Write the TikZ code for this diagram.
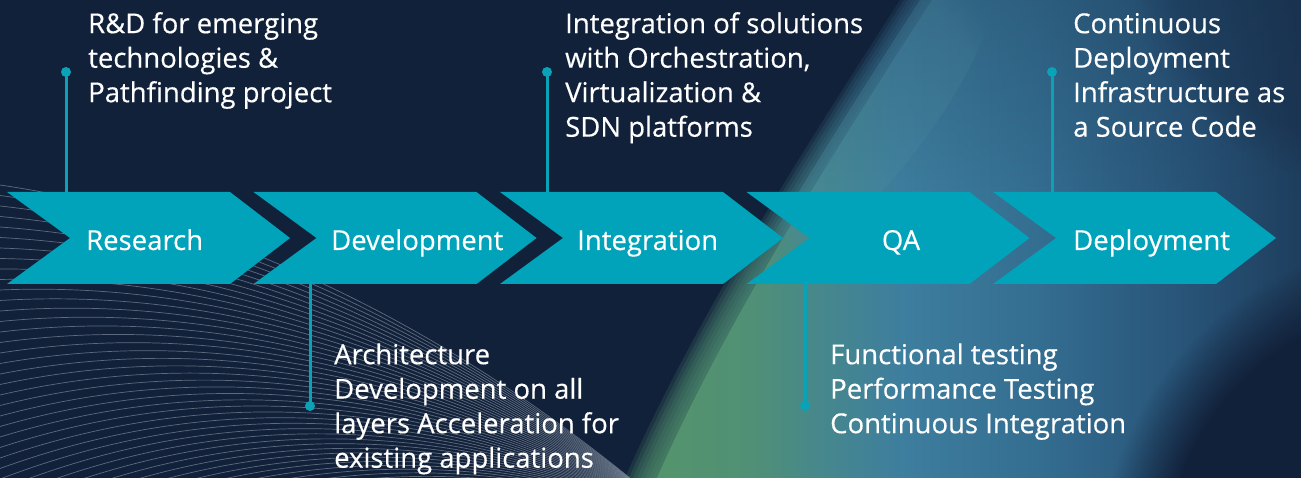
\documentclass[tikz,border=0pt]{standalone}
\usepackage{fontspec}
\setmainfont{Open Sans}[FakeBold=0.35]
\usetikzlibrary{fadings}
\definecolor{navy}{HTML}{12213A}
\definecolor{chev}{HTML}{00A3B9}
\definecolor{conn}{HTML}{0AA2B7}
\definecolor{fan}{HTML}{A9B4C2}
\definecolor{streak}{HTML}{4A8CA3}
\pgfdeclarehorizontalshading{glowshade}{100bp}{
  color(0bp)=(rgb,255:red,84;green,148;blue,108);
  color(25bp)=(rgb,255:red,84;green,148;blue,108);
  color(32bp)=(rgb,255:red,80;green,144;blue,118);
  color(37bp)=(rgb,255:red,70;green,136;blue,140);
  color(43bp)=(rgb,255:red,62;green,126;blue,158);
  color(53bp)=(rgb,255:red,52;green,110;blue,145);
  color(64bp)=(rgb,255:red,40;green,84;blue,120);
  color(75bp)=(rgb,255:red,28;green,56;blue,86);
  color(100bp)=(rgb,255:red,28;green,56;blue,86)}
\newcommand\tstrut{\rule{0pt}{24pt}}
\tikzset{
  chevron/.style={fill=chev},
  fanline/.style={draw=fan, line width=0.7pt, opacity=0.5},
  connector/.style={draw=conn, line width=3pt},
  dotnode/.style={circle, fill=conn, inner sep=0pt, minimum size=10pt},
  txt/.style={anchor=north west, inner sep=0pt, align=left, text=white,
    font=\fontsize{27.5}{34.5}\selectfont},
  lbl/.style={anchor=base west, inner sep=0pt, text=white,
    font=\fontsize{27.5}{34.5}\selectfont},
  glowregion/.style={shading=glowshade}
}
\def\glowpath{(625,478) .. controls (690,330) and (790,170) .. (900,0) -- (1301,0) -- (1301,478) -- cycle}
\begin{document}
\begin{tikzpicture}[x=1pt,y=-1pt]
\useasboundingbox (0,0) rectangle (1301,478);
\fill[navy] (0,0) rectangle (1301,478);
\begin{scope}
  \clip (0,0) rectangle (1301,478);
  % glow region with a soft left edge
  \foreach \d in {0,4,...,28}{
    \path[glowregion, opacity=0.18, xshift=\d pt] \glowpath;
  }
  \path[glowregion, xshift=32pt] \glowpath;
  \begin{scope}
    \clip[xshift=20pt] \glowpath;
    \fill[streak, opacity=0.35, path fading=circle with fuzzy edge 20 percent, rotate around={-38:(870,120)}]
      (870,120) ellipse [x radius=55, y radius=190];
  \end{scope}
  % darker top and dark corners
  \fill[navy, opacity=0.2, path fading=south] (600,0) rectangle (1301,200);
  \fill[navy, path fading=circle with fuzzy edge 20 percent] (1430,570) circle [radius=330];
  \fill[navy, opacity=0.25, path fading=circle with fuzzy edge 20 percent] (1350,-40) circle [radius=220];
  \fill[navy, opacity=0.5, path fading=circle with fuzzy edge 20 percent] (700,0) circle [radius=170];
  % fan of lines
  \foreach \i in {0,...,42}{
    \pgfmathsetmacro\yy{185+10.5*\i}
    \draw[fanline] (0,\yy) .. controls (250,{0.55*\yy+120}) and (480,{0.25*\yy+300}) .. (680,520);
  }
\end{scope}
% chevrons
\foreach \xo in {7,253.5,500,746.5,993}{
  \fill[chevron] (\xo,192) -- ({\xo+223},192) -- ({\xo+283},238) -- ({\xo+223},284)
    -- (\xo,284) -- ({\xo+63},238) -- cycle;
}
% chevron labels
\node[lbl] (research) at (86,250) {Research};
\node[lbl] (development) at (331,250) {Development};
\node[lbl] (integration) at (577,250) {Integration};
\node[lbl, anchor=base] (qa) at (901,250) {QA};
\node[lbl] (deployment) at (1073,250) {Deployment};
% connector anchors on chevrons
\coordinate (c1) at (66,192);
\coordinate (c2) at (310,284);
\coordinate (c3) at (547,192);
\coordinate (c4) at (805,284);
\coordinate (c5) at (1052,192);
% dots
\node[dotnode] (d1) at (66,72) {};
\node[dotnode] (d2) at (310,406) {};
\node[dotnode] (d3) at (547,72) {};
\node[dotnode] (d4) at (805,406) {};
\node[dotnode] (d5) at (1052,72) {};
\draw[connector] (d1.center) -- (c1);
\draw[connector] (c2) -- (d2.center);
\draw[connector] (d3.center) -- (c3);
\draw[connector] (c4) -- (d4.center);
\draw[connector] (d5.center) -- (c5);
% texts
\node[txt] (t1) at (88,9) {\tstrut R\&D for emerging\\technologies \&\\Pathfinding project};
\node[txt] (t2) at (334,340) {\tstrut Architecture\\Development on all\\layers Acceleration for\\existing applications};
\node[txt] (t3) at (565,9) {\tstrut Integration of solutions\\with Orchestration,\\Virtualization \&\\SDN platforms};
\node[txt] (t4) at (830,340) {\tstrut Functional testing\\Performance Testing\\Continuous Integration};
\node[txt] (t5) at (1073,9) {\tstrut Continuous\\Deployment\\Infrastructure as\\a Source Code};
\end{tikzpicture}
\end{document}
